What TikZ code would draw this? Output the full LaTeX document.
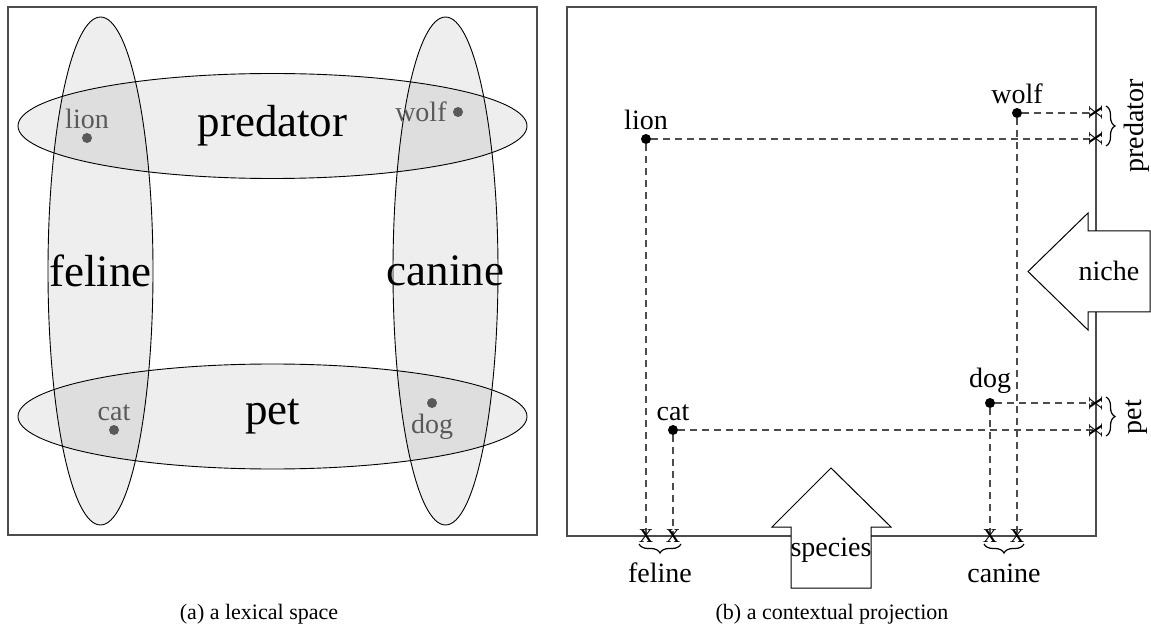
\documentclass[tikz,border=0pt]{standalone}
\usepackage{fontspec}
\setmainfont{Liberation Serif}
\usetikzlibrary{positioning,decorations.pathreplacing}
\tikzset{
  panel/.style={draw=black!70, line width=1.1pt},
  region/.style={fill=black, fill opacity=0.065, draw=black, line width=0.9pt},
  big/.style={font=\fontsize{45}{54}\selectfont, inner sep=0pt},
  lbl/.style={font=\fontsize{28}{34}\selectfont, inner sep=1pt},
  glbl/.style={lbl, text=black!65},
  gdot/.style={circle, fill=black!65, inner sep=0pt, minimum size=10pt},
  bdot/.style={circle, fill=black, inner sep=0pt, minimum size=10pt},
  proj/.style={draw=black!70, dash pattern=on 7pt off 5pt, line width=1.1pt},
  xmark/.style={font=\fontsize{28}{34}\selectfont, inner sep=0pt},
  bracestyle/.style={decorate, decoration={brace, amplitude=9pt}, line width=1.2pt},
  bigarrow/.style={draw=black, fill=white, line width=1pt},
  caption/.style={font=\fontsize{22}{26}\selectfont}
}
\begin{document}
\begin{tikzpicture}[x=1pt,y=-1pt]
\useasboundingbox (0,0) rectangle (1151,636);
% ---------------- (a) lexical space ----------------
\draw[panel] (8,7) rectangle (537,535);
\draw[region] (100.5,271) ellipse [x radius=52.5pt, y radius=254pt];
\draw[region] (445.5,271) ellipse [x radius=52.5pt, y radius=254pt];
\draw[region] (272.5,126) ellipse [x radius=254.5pt, y radius=52.5pt];
\draw[region] (272.5,416.5) ellipse [x radius=254.5pt, y radius=52.5pt];
\node[big] (predatorA) at (272.5,126) {predator};
\node[big] (petA) at (272.5,417) {pet};
\node[big] (felineA) at (100.5,271) {feline};
\node[big] (canineA) at (445.5,271) {canine};
\node[gdot] (lionA) at (87,138) {};
\node[gdot] (wolfA) at (458,112) {};
\node[gdot] (catA) at (114,430) {};
\node[gdot] (dogA) at (432,403) {};
\node[glbl, above=3pt of lionA] (lionAl) {lion};
\node[glbl, left=5pt of wolfA] (wolfAl) {wolf};
\node[glbl, above=3pt of catA] (catAl) {cat};
\node[glbl, below=5pt of dogA] (dogAl) {dog};
\node[caption] (capA) at (259,614) {(a) a lexical space};
% ---------------- (b) contextual projection ----------------
\draw[panel] (567,7) rectangle (1096,536);
\node[bdot] (lionB) at (646,139) {};
\node[bdot] (wolfB) at (1017,113) {};
\node[bdot] (dogB) at (990,403) {};
\node[bdot] (catB) at (673,430) {};
\node[lbl, above=3pt of lionB] (lionBl) {lion};
\node[lbl, above=3pt of wolfB] (wolfBl) {wolf};
\node[lbl, above=3pt of dogB] (dogBl) {dog};
\node[lbl, above=3pt of catB] (catBl) {cat};
% projection end points
\coordinate (lionS) at (646,536);
\coordinate (catS) at (673,536);
\coordinate (dogS) at (990,536);
\coordinate (wolfS) at (1017,536);
\coordinate (wolfE) at (1096,113);
\coordinate (lionE) at (1096,139);
\coordinate (dogE) at (1096,403);
\coordinate (catE) at (1096,430);
\draw[proj] (lionB) -- (lionS);
\draw[proj] (lionB) -- (lionE);
\draw[proj] (catB) -- (catS);
\draw[proj] (catB) -- (catE);
\draw[proj] (dogB) -- (dogS);
\draw[proj] (dogB) -- (dogE);
\draw[proj] (wolfB) -- (wolfS);
\draw[proj] (wolfB) -- (wolfE);
% x marks
\node[xmark] (xlionS) at (lionS) {x};
\node[xmark] (xcatS) at (catS) {x};
\node[xmark] (xdogS) at (dogS) {x};
\node[xmark] (xwolfS) at (wolfS) {x};
\node[xmark, rotate=90] (xwolfE) at (wolfE) {x};
\node[xmark, rotate=90] (xlionE) at (lionE) {x};
\node[xmark, rotate=90] (xdogE) at (dogE) {x};
\node[xmark, rotate=90] (xcatE) at (catE) {x};
% braces
\draw[bracestyle] (681,544) -- (639,544);
\draw[bracestyle] (1024,544) -- (984,544);
\draw[bracestyle] (1106,106) -- (1106,146);
\draw[bracestyle] (1106,397) -- (1106,436);
\node[lbl] (felineB) at (660,573) {feline};
\node[lbl] (canineB) at (1004,573) {canine};
\node[lbl, rotate=90] (predatorB) at (1137,126) {predator};
\node[lbl, rotate=90] (petB) at (1137,417) {pet};
% big arrows
\draw[bigarrow] (831,468) -- (891,527) -- (871,527) -- (871,588) -- (791,588) -- (791,527) -- (772,527) -- cycle;
\node[lbl] (species) at (831,550) {species};
\draw[bigarrow] (1028,271.5) -- (1088,213) -- (1088,231) -- (1150,231) -- (1150,312) -- (1088,312) -- (1088,330) -- cycle;
\node[lbl] (niche) at (1109,271) {niche};
\node[caption] (capB) at (832,614) {(b) a contextual projection};
\end{tikzpicture}
\end{document}
